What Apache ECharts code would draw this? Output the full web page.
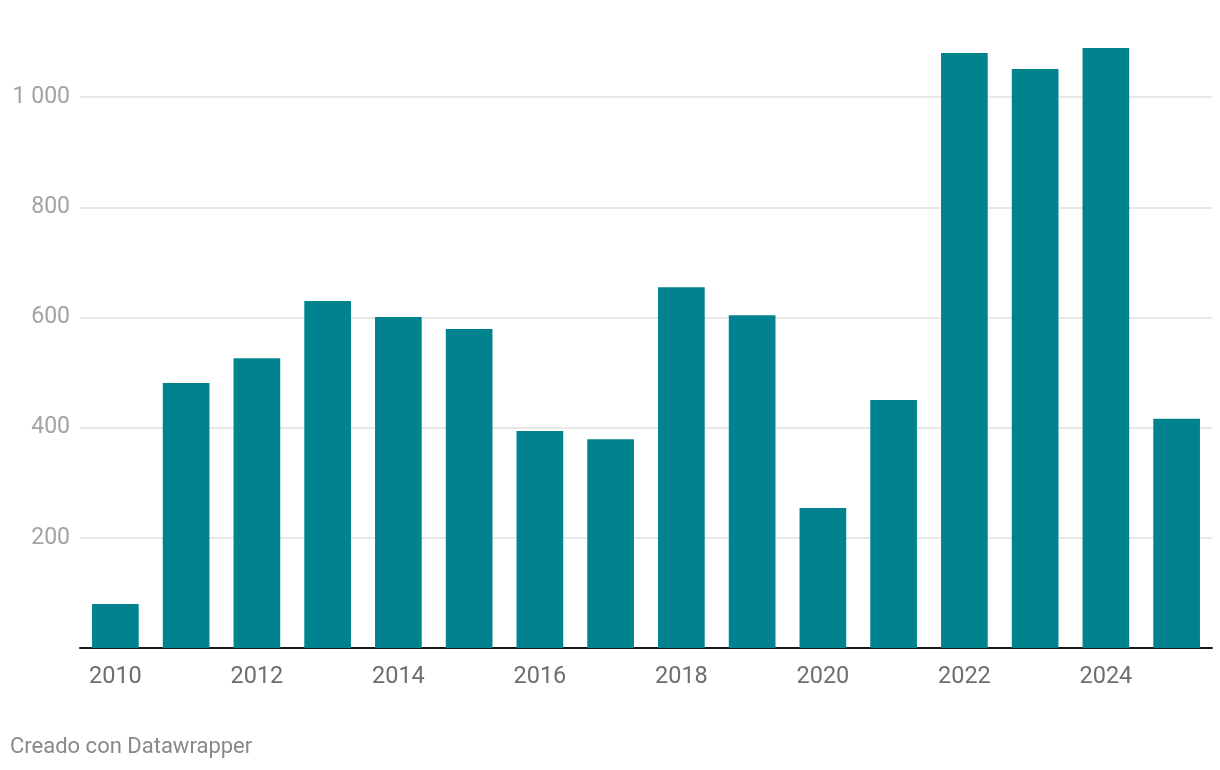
<!DOCTYPE html>
<html><head><meta charset="utf-8">
<script src="https://cdn.jsdelivr.net/npm/echarts@6/dist/echarts.min.js"></script>
<style>html,body{margin:0;padding:0;background:#fff}#c{width:1220px;height:770px}</style>
</head><body><div id="c"></div>
<script>
const years = ['2010','2011','2012','2013','2014','2015','2016','2017','2018','2019','2020','2021','2022','2023','2024','2025'];
const values = [80,481,526,630,601,579,394,379,655,604,254,450,1080,1051,1089,416];
const yTicks = [200,400,600,800,1000];
const credit = 'Creado con Datawrapper';

const chart = echarts.init(document.getElementById('c'), null, {renderer:'canvas'});
chart.setOption({
  animation:false,
  backgroundColor:'#fff',
  textStyle:{fontFamily:'Roboto'},
  graphic:[{type:'text', left:10, top:736, style:{text:credit, font:'22px Roboto', fill:'#888'}}],
  grid:{left:80, right:8, top:42, bottom:122, containLabel:false},
  xAxis:{type:'category', data:years,
    axisLine:{show:true, lineStyle:{color:'#1a1a1a', width:2}},
    axisTick:{show:false},
    axisLabel:{interval:1, color:'#6e6e6e', fontSize:23.5, margin:17, fontFamily:'Roboto'}},
  yAxis:{type:'value', min:0, max:1100,
    axisLine:{show:false}, axisTick:{show:false, customValues:yTicks},
    splitLine:{show:true, lineStyle:{color:'#e0e0e0', width:1.5}},
    axisLabel:{customValues:yTicks, color:'#a3a3a3', fontSize:23, margin:10, fontFamily:'Roboto',
      formatter:v=>String(v).replace(/\B(?=(\d{3})+(?!\d))/g,' ')}},
  series:[{type:'bar', data:values, barCategoryGap:'34%', itemStyle:{color:'#01838f'}}]
});
</script></body></html>
